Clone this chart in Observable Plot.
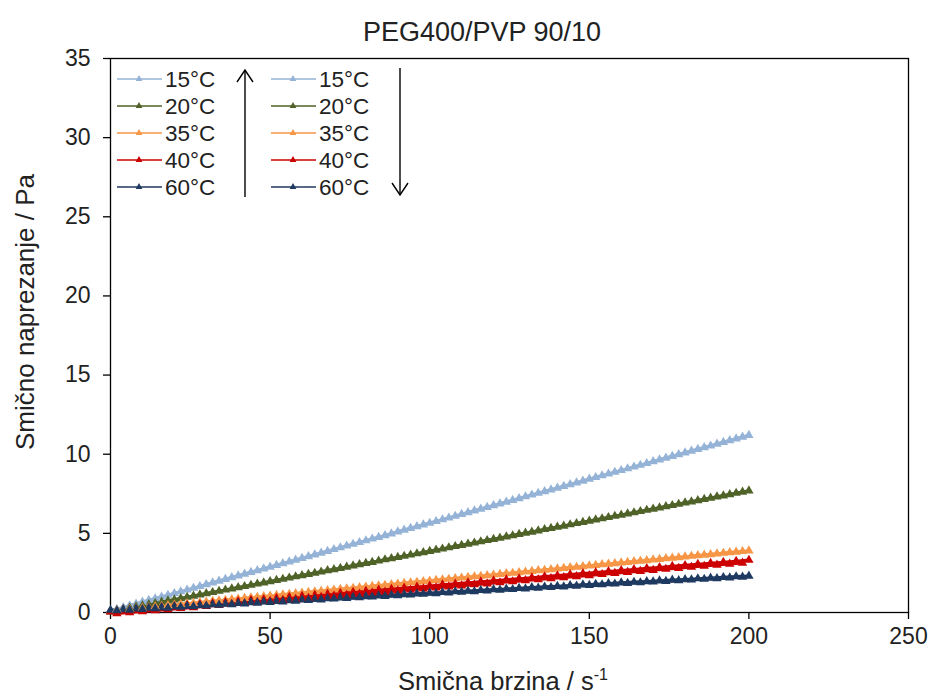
<!DOCTYPE html>
<html>
<head>
<meta charset="utf-8">
<script src="https://cdn.jsdelivr.net/npm/d3@7"></script>
<script src="https://cdn.jsdelivr.net/npm/@observablehq/plot@0.6"></script>
<style>
  html, body { margin: 0; padding: 0; background: #fff; }
  #chart { width: 931px; height: 695px; }
</style>
</head>
<body>
<div id="chart"></div>
<script>
// ---- data ----
const titleText = "PEG400/PVP 90/10";
const xLabel = "Smična brzina / s";
const xLabelSup = "-1";
const yLabel = "Smično naprezanje / Pa";
const xTicks = [0, 50, 100, 150, 200, 250];
const yTicks = [0, 5, 10, 15, 20, 25, 30, 35];
const temps = ["15°C", "20°C", "35°C", "40°C", "60°C"];
const colors = ["#95B3D7", "#4F6228", "#F79646", "#CC0000", "#1F3A60"];

// shear rate (s^-1), ascending ramp and descending ramp
const rateUp = [0,4,8,12,16,20,24,28,32,36,40,44,48,52,56,60,64,68,72,76,80,84,88,92,96,100,104,108,112,116,120,124,128,132,136,140,144,148,152,156,160,164,168,172,176,180,184,188,192,196,200];
const rateDown = [2,6,10,14,18,22,26,30,34,38,42,46,50,54,58,62,66,70,74,78,82,86,90,94,98,102,106,110,114,118,122,126,130,134,138,142,146,150,154,158,162,166,170,174,178,182,186,190,194,198];

// shear stress (Pa)
const up15 = [0.10,0.32,0.54,0.77,0.99,1.21,1.43,1.65,1.88,2.10,2.32,2.54,2.76,2.99,3.21,3.43,3.65,3.87,4.10,4.32,4.54,4.76,4.98,5.21,5.43,5.65,5.87,6.09,6.32,6.54,6.76,6.98,7.20,7.43,7.65,7.87,8.09,8.31,8.54,8.76,8.98,9.20,9.42,9.65,9.87,10.09,10.31,10.53,10.76,10.98,11.20];
const down15 = [0.21,0.43,0.66,0.88,1.10,1.32,1.54,1.77,1.99,2.21,2.43,2.65,2.88,3.10,3.32,3.54,3.76,3.99,4.21,4.43,4.65,4.87,5.10,5.32,5.54,5.76,5.98,6.21,6.43,6.65,6.87,7.09,7.32,7.54,7.76,7.98,8.20,8.43,8.65,8.87,9.09,9.31,9.54,9.76,9.98,10.20,10.42,10.65,10.87,11.09];
const up20 = [0.05,0.20,0.36,0.51,0.66,0.81,0.97,1.12,1.27,1.43,1.58,1.73,1.88,2.04,2.19,2.34,2.49,2.65,2.80,2.95,3.11,3.26,3.41,3.56,3.72,3.87,4.02,4.18,4.33,4.48,4.63,4.79,4.94,5.09,5.25,5.40,5.55,5.70,5.86,6.01,6.16,6.31,6.47,6.62,6.77,6.93,7.08,7.23,7.38,7.54,7.69];
const down20 = [0.13,0.28,0.43,0.58,0.74,0.89,1.04,1.20,1.35,1.50,1.65,1.81,1.96,2.11,2.27,2.42,2.57,2.72,2.88,3.03,3.18,3.34,3.49,3.64,3.79,3.95,4.10,4.25,4.40,4.56,4.71,4.86,5.02,5.17,5.32,5.47,5.63,5.78,5.93,6.09,6.24,6.39,6.54,6.70,6.85,7.00,7.16,7.31,7.46,7.61];
const up35 = [0.10,0.18,0.25,0.33,0.40,0.48,0.56,0.63,0.71,0.78,0.86,0.94,1.01,1.09,1.16,1.24,1.32,1.39,1.47,1.54,1.62,1.70,1.77,1.85,1.92,2.00,2.08,2.15,2.23,2.30,2.38,2.46,2.53,2.61,2.68,2.76,2.84,2.91,2.99,3.06,3.14,3.22,3.29,3.37,3.44,3.52,3.60,3.67,3.75,3.82,3.90];
const down35 = [0.14,0.21,0.29,0.37,0.44,0.52,0.59,0.67,0.75,0.82,0.90,0.97,1.05,1.13,1.20,1.28,1.35,1.43,1.51,1.58,1.66,1.73,1.81,1.89,1.96,2.04,2.11,2.19,2.27,2.34,2.42,2.49,2.57,2.65,2.72,2.80,2.87,2.95,3.03,3.10,3.18,3.25,3.33,3.41,3.48,3.56,3.63,3.71,3.79,3.86];
const up40 = [0.05,0.12,0.18,0.25,0.31,0.38,0.44,0.51,0.57,0.64,0.70,0.77,0.83,0.90,0.96,1.03,1.09,1.16,1.22,1.29,1.35,1.42,1.48,1.55,1.61,1.68,1.75,1.81,1.88,1.94,2.01,2.07,2.14,2.20,2.27,2.33,2.40,2.46,2.53,2.59,2.66,2.72,2.79,2.85,2.92,2.98,3.05,3.11,3.18,3.24,3.31];
const down40 = [-0.07,0.00,0.06,0.13,0.19,0.26,0.32,0.39,0.45,0.52,0.58,0.65,0.71,0.78,0.84,0.91,0.97,1.04,1.10,1.17,1.24,1.30,1.37,1.43,1.50,1.56,1.63,1.69,1.76,1.82,1.89,1.95,2.02,2.08,2.15,2.21,2.28,2.34,2.41,2.48,2.54,2.61,2.67,2.74,2.80,2.87,2.93,3.00,3.06,3.13];
const up60 = [0.15,0.19,0.24,0.28,0.32,0.37,0.41,0.45,0.50,0.54,0.58,0.63,0.67,0.71,0.75,0.80,0.84,0.88,0.93,0.97,1.01,1.06,1.10,1.14,1.19,1.23,1.27,1.32,1.36,1.40,1.45,1.49,1.53,1.58,1.62,1.66,1.71,1.75,1.79,1.83,1.88,1.92,1.96,2.01,2.05,2.09,2.14,2.18,2.22,2.27,2.31];
const down60 = [0.12,0.16,0.21,0.25,0.29,0.34,0.38,0.42,0.47,0.51,0.55,0.60,0.64,0.68,0.73,0.77,0.81,0.86,0.90,0.94,0.99,1.03,1.07,1.12,1.16,1.20,1.24,1.29,1.33,1.37,1.42,1.46,1.50,1.55,1.59,1.63,1.68,1.72,1.76,1.81,1.85,1.89,1.94,1.98,2.02,2.07,2.11,2.15,2.20,2.24];

const upSeries = [up15, up20, up35, up40, up60];
const downSeries = [down15, down20, down35, down40, down60];

// ---- build table ----
const rows = [];
upSeries.forEach((vals, i) => vals.forEach((v, j) => rows.push({rate: rateUp[j], stress: v, temp: temps[i], dir: "up"})));
downSeries.forEach((vals, i) => vals.forEach((v, j) => rows.push({rate: rateDown[j], stress: v, temp: temps[i], dir: "down"})));

const font = "'Liberation Sans', Arial, sans-serif";

const chart = Plot.plot({
  width: 931,
  height: 695,
  marginLeft: 110,
  marginRight: 23,
  marginTop: 58,
  marginBottom: 83,
  style: {fontFamily: font, fontSize: "23px", color: "#222", background: "#fff", overflow: "visible"},
  x: {domain: [0, 250]},
  y: {domain: [0, 35]},
  color: {domain: temps, range: colors},
  marks: [
    Plot.frame({stroke: "#000", strokeWidth: 1.3}),
    Plot.axisX({ticks: xTicks, tickSize: 7, tickPadding: 8, label: null, stroke: "#000", strokeWidth: 1.3, fill: "#222", fontSize: 23}),
    Plot.axisY({ticks: yTicks, tickSize: 7, tickPadding: 13, label: null, stroke: "#000", strokeWidth: 1.3, fill: "#222", fontSize: 23}),
    Plot.line(rows, {x: "rate", y: "stress", z: d => d.temp + d.dir, stroke: "temp", strokeWidth: 3}),
    Plot.dot(rows, {x: "rate", y: "stress", fill: "temp", symbol: "triangle", r: 3.5, stroke: null})
  ]
});
document.getElementById("chart").appendChild(chart);

// ---- title, axis titles, legend ----
const svg = d3.select(chart);
svg.append("text").attr("x", 482).attr("y", 41).attr("text-anchor", "middle")
  .attr("font-family", font).attr("font-size", 27).attr("fill", "#222").text(titleText);

const xl = svg.append("text").attr("x", 503).attr("y", 690).attr("text-anchor", "middle")
  .attr("font-family", font).attr("font-size", 25.5).attr("fill", "#222");
xl.append("tspan").text(xLabel);
xl.append("tspan").attr("dy", -10).attr("font-size", 16).text(xLabelSup);

svg.append("text").attr("transform", "translate(34,312) rotate(-90)").attr("text-anchor", "middle")
  .attr("font-family", font).attr("font-size", 26).attr("fill", "#222").text(yLabel);

const legendRowsY = [79, 106, 133, 160, 187];
const legendCols = [117, 271];
const lg = svg.append("g");
legendCols.forEach(cx => {
  temps.forEach((t, i) => {
    const y = legendRowsY[i];
    lg.append("line").attr("x1", cx).attr("x2", cx + 45).attr("y1", y).attr("y2", y)
      .attr("stroke", colors[i]).attr("stroke-width", 1.6);
    lg.append("path").attr("d", d3.symbol(d3.symbolTriangle, 20)()).attr("transform", `translate(${cx + 22},${y})`)
      .attr("fill", colors[i]);
    lg.append("text").attr("x", cx + 48).attr("y", y + 8).attr("text-anchor", "start")
      .attr("font-family", font).attr("font-size", 22.5).attr("fill", "#222").text(t);
  });
});
// up arrow
lg.append("line").attr("x1", 245).attr("x2", 245).attr("y1", 197).attr("y2", 70).attr("stroke", "#000").attr("stroke-width", 1.4);
lg.append("polyline").attr("points", "237,82 245,70 253,82").attr("fill", "none").attr("stroke", "#000").attr("stroke-width", 1.4);
// down arrow
lg.append("line").attr("x1", 400).attr("x2", 400).attr("y1", 68).attr("y2", 195).attr("stroke", "#000").attr("stroke-width", 1.4);
lg.append("polyline").attr("points", "392,183 400,195 408,183").attr("fill", "none").attr("stroke", "#000").attr("stroke-width", 1.4);
</script>
</body>
</html>
